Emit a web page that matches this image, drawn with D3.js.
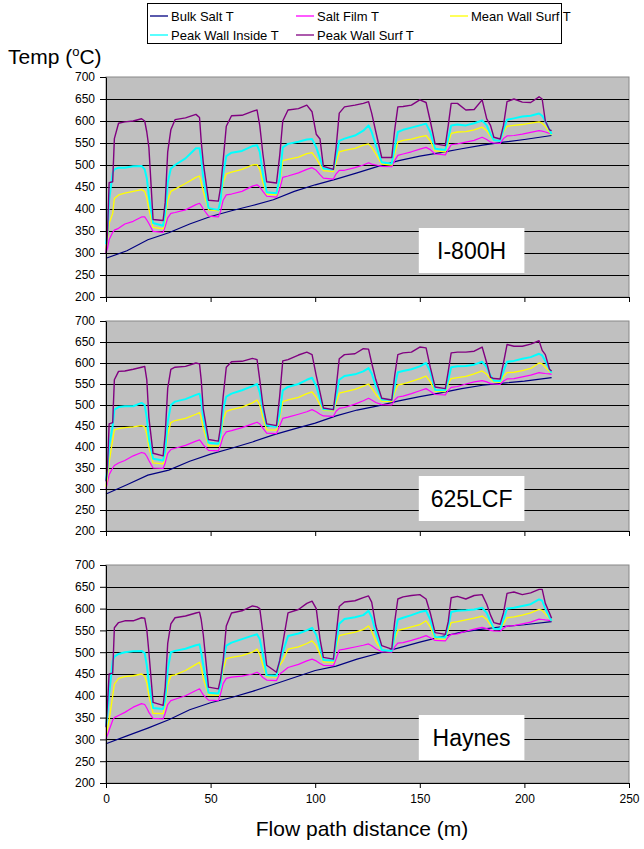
<!DOCTYPE html>
<html>
<head>
<meta charset="utf-8">
<script src="https://cdn.jsdelivr.net/npm/d3@7"></script>
<style>
  body { margin: 0; background: #fff; }
  text { font-family: "Liberation Sans", Arial, sans-serif; }
</style>
</head>
<body>
<svg id="chart" width="644" height="849"></svg>
<script>
// distance grid (m) shared by the four stepped series
const dist = [
  0, 0.7, 1.5, 3.2, 4, 6, 9, 13, 17, 18.5, 19.5, 20.5, 22.5, 27.3, 28.3, 29.5, 31,
  33, 38, 43, 44.7, 45.5, 46.5, 49, 53.7, 54.8, 56, 57.5,
  60, 65, 70, 72.2, 73.5, 75, 76.8, 81.5, 83, 84.5,
  87, 92, 96, 98.5, 100.5, 102.3, 103.9, 108.7, 110, 111.5,
  114, 119, 123, 125.5, 127, 129, 131.8, 136.6, 138, 139.5,
  142, 146, 150, 153, 155, 157.3, 162.2, 163.6, 165,
  168, 172, 176, 179.8, 182, 183.8, 185.4, 188.4, 190, 191.7,
  195, 199, 203, 207, 208.5, 210, 212, 213
];
const bulkDist = [0, 10, 20, 30, 40, 50, 60, 70, 80, 90, 100, 110, 120, 130, 140, 150, 160, 170, 180, 190, 200, 213];

// I-800H
const bulk1 = [288, 305, 330, 346, 366, 383, 396, 408, 421, 440, 455, 468, 482, 497, 510, 520, 528, 537, 545, 552, 558, 567];
const film1 = [
  300, 310, 330, 347, 352, 356, 366, 372, 382, 382, 375, 367, 349, 347, 360, 380, 390,
  392, 398, 410, 413, 408, 400, 384, 382, 395, 420, 432,
  434, 440, 452, 455, 450, 440, 429, 427, 445, 472,
  475, 482, 490, 494, 488, 478, 470, 468, 480, 488,
  488, 494, 500, 505, 502, 500, 497, 496, 510, 522,
  525, 530, 536, 540, 535, 525, 523, 535, 546,
  548, 552, 556, 563, 558, 552, 550, 549, 560, 566,
  567, 570, 574, 578, 577, 575, 572, 571
];
const mean1 = [
  310, 330, 367, 390, 424, 432, 436, 440, 444, 440, 425, 400, 358, 355, 375, 420, 440,
  445, 458, 472, 475, 460, 440, 398, 396, 415, 460, 480,
  484, 490, 500, 501, 490, 460, 434, 432, 460, 510,
  513, 518, 526, 528, 515, 500, 487, 485, 505, 530,
  533, 538, 545, 548, 540, 525, 502, 500, 525, 552,
  556, 559, 564, 567, 555, 532, 530, 550, 572,
  575, 576, 580, 586, 578, 565, 557, 555, 575, 588,
  590, 592, 595, 598, 595, 588, 575, 568
];
const inside1 = [
  320, 345, 420, 482, 490, 494, 494, 497, 498, 490, 470, 430, 368, 362, 390, 460, 492,
  500, 515, 538, 538, 515, 470, 402, 398, 420, 480, 520,
  528, 532, 543, 545, 530, 480, 438, 436, 470, 540,
  548, 553, 558, 559, 540, 515, 492, 490, 520, 555,
  560, 567, 578, 590, 575, 545, 506, 503, 540, 575,
  580, 585, 590, 594, 575, 537, 534, 560, 590,
  592, 590, 595, 601, 590, 570, 557, 555, 580, 603,
  606, 610, 612, 617, 612, 600, 580, 570
];
const surf1 = [
  300, 345, 460, 462, 560, 595, 598, 600, 605, 600, 575, 540, 376, 374, 415, 530, 580,
  603, 607, 615, 608, 555, 505, 420, 418, 450, 510, 588,
  612, 613, 622, 625, 590, 525, 462, 459, 520, 600,
  625, 628, 636, 621, 570, 559, 497, 490, 540, 618,
  632, 636, 640, 644, 618, 575, 517, 517, 580, 632,
  633, 636, 648, 642, 600, 548, 544, 590, 640,
  640, 625, 626, 648, 605, 590, 563, 559, 590, 644,
  650, 643, 642, 655, 650, 600, 580, 578
];

// 625LCF
const bulk2 = [288, 310, 333, 345, 366, 383, 397, 412, 429, 443, 457, 474, 488, 498, 510, 520, 529, 539, 547, 552, 557, 565];
const film2 = [
  300, 315, 334, 350, 356, 362, 368, 379, 387, 385, 378, 368, 350, 349, 362, 385, 394,
  397, 404, 414, 417, 412, 405, 392, 391, 405, 425, 436,
  439, 446, 455, 459, 455, 445, 433, 432, 450, 468,
  471, 478, 484, 489, 484, 478, 474, 473, 485, 492,
  494, 502, 510, 516, 512, 506, 501, 500, 512, 519,
  521, 527, 534, 539, 533, 525, 524, 535, 542,
  544, 550, 555, 558, 555, 551, 550, 549, 557, 562,
  563, 567, 571, 577, 576, 575, 574, 573
];
const mean2 = [
  305, 330, 364, 417, 440, 444, 446, 448, 451, 448, 430, 400, 362, 360, 380, 430, 458,
  463, 468, 478, 482, 470, 445, 403, 402, 420, 465, 485,
  489, 495, 505, 512, 500, 470, 441, 440, 470, 508,
  512, 518, 527, 531, 518, 500, 487, 486, 505, 528,
  531, 537, 545, 550, 540, 525, 509, 508, 530, 548,
  550, 556, 563, 569, 555, 533, 532, 550, 563,
  565, 568, 574, 581, 573, 562, 555, 554, 568, 577,
  578, 582, 587, 600, 598, 590, 580, 577
];
const inside2 = [
  320, 349, 402, 451, 489, 495, 497, 497, 505, 500, 470, 420, 372, 368, 390, 460, 500,
  508, 514, 524, 527, 510, 470, 410, 408, 430, 490, 520,
  527, 535, 545, 550, 530, 490, 451, 448, 480, 535,
  543, 550, 560, 565, 545, 515, 490, 489, 520, 560,
  569, 573, 580, 588, 575, 545, 513, 512, 545, 578,
  581, 585, 592, 600, 580, 536, 535, 560, 590,
  592, 593, 596, 603, 590, 570, 558, 557, 580, 603,
  605, 610, 614, 622, 618, 605, 585, 577
];
const surf2 = [
  318, 350, 455, 458, 560, 580, 581, 585, 590, 592, 560, 470, 385, 379, 430, 540, 585,
  590, 592, 600, 598, 560, 490, 418, 414, 450, 520, 590,
  603, 604, 611, 608, 560, 500, 455, 451, 520, 605,
  608, 619, 626, 620, 570, 530, 493, 489, 540, 610,
  620, 622, 634, 633, 600, 560, 516, 512, 570, 620,
  624, 626, 638, 636, 590, 543, 539, 580, 624,
  626, 626, 628, 638, 600, 566, 563, 562, 600, 644,
  640, 640, 645, 653, 630, 620, 585, 581
];

// Haynes
const bulk3 = [290, 308, 326, 345, 368, 384, 396, 410, 426, 442, 458, 468, 484, 497, 510, 523, 535, 546, 553, 559, 563, 570];
const film3 = [
  300, 310, 321, 344, 350, 355, 362, 374, 382, 380, 372, 362, 348, 347, 360, 380, 389,
  392, 400, 412, 416, 410, 402, 390, 389, 405, 428, 440,
  443, 445, 450, 454, 450, 442, 436, 435, 450, 455,
  465, 472, 480, 484, 480, 474, 470, 469, 485, 505,
  507, 512, 516, 519, 515, 508, 501, 500, 512, 521,
  522, 527, 533, 538, 533, 527, 526, 535, 541,
  542, 548, 553, 557, 554, 550, 549, 548, 555, 560,
  561, 565, 569, 576, 575, 574, 573, 572
];
const mean3 = [
  310, 325, 344, 400, 427, 440, 444, 446, 450, 445, 430, 400, 360, 359, 380, 425, 446,
  448, 458, 472, 477, 465, 440, 402, 401, 420, 460, 485,
  488, 492, 500, 507, 495, 470, 444, 443, 470, 480,
  507, 512, 520, 526, 515, 495, 478, 477, 510, 538,
  541, 546, 552, 560, 548, 525, 504, 503, 530, 550,
  553, 558, 563, 572, 558, 531, 530, 550, 568,
  570, 574, 578, 583, 575, 562, 554, 553, 565, 579,
  581, 585, 590, 598, 596, 588, 578, 572
];
const inside3 = [
  330, 360, 404, 480, 490, 496, 500, 502, 503, 498, 470, 430, 372, 370, 390, 460, 500,
  503, 508, 516, 518, 500, 470, 407, 405, 425, 480, 515,
  522, 530, 538, 541, 530, 495, 447, 446, 480, 500,
  537, 543, 550, 556, 540, 510, 482, 481, 520, 565,
  576, 580, 585, 595, 580, 545, 505, 503, 540, 575,
  579, 585, 592, 595, 575, 535, 534, 560, 592,
  595, 596, 598, 602, 590, 570, 554, 553, 575, 600,
  602, 606, 610, 621, 618, 600, 580, 572
];
const surf3 = [
  328, 380, 450, 452, 556, 568, 572, 572, 579, 578, 552, 500, 385, 378, 420, 520, 565,
  579, 583, 590, 592, 575, 540, 420, 416, 440, 480, 560,
  590, 595, 606, 604, 600, 545, 470, 454, 480, 520,
  590, 598, 612, 617, 600, 530, 488, 484, 540, 605,
  615, 618, 625, 629, 615, 560, 515, 507, 570, 622,
  627, 630, 632, 622, 590, 545, 541, 570, 625,
  628, 622, 630, 632, 610, 585, 568, 564, 590, 635,
  638, 632, 636, 644, 644, 612, 590, 578
];

const materials = ['I-800H', '625LCF', 'Haynes'];
const yTicks = [200, 250, 300, 350, 400, 450, 500, 550, 600, 650, 700];
const xTicks = [0, 50, 100, 150, 200, 250];

const series = [
  { label: 'Bulk Salt T',         color: '#000080', width: 1.2 },
  { label: 'Salt Film T',         color: '#ff00ff', width: 1.2 },
  { label: 'Mean Wall Surf T',    color: '#ffff00', width: 1.3 },
  { label: 'Peak Wall Inside T',  color: '#00ffff', width: 2 },
  { label: 'Peak Wall Surf T',    color: '#800080', width: 1.4 }
];

const panels = [
  { name: materials[0], bulk: bulk1, values: [film1, mean1, inside1, surf1] },
  { name: materials[1], bulk: bulk2, values: [film2, mean2, inside2, surf2] },
  { name: materials[2], bulk: bulk3, values: [film3, mean3, inside3, surf3] }
];

const svg = d3.select('#chart');
const x = d3.scaleLinear().domain([0, 250]).range([106, 629]);
const frames = [
  { top: 77, bottom: 297, box: [228, 273] },
  { top: 321, bottom: 531, box: [476, 521] },
  { top: 565, bottom: 783, box: [715, 760] }
];

panels.forEach((p, i) => {
  const fr = frames[i];
  const y = d3.scaleLinear().domain([200, 700]).range([fr.bottom, fr.top]);
  const g = svg.append('g');

  g.append('rect')
    .attr('x', x(0)).attr('y', fr.top)
    .attr('width', x(250) - x(0)).attr('height', fr.bottom - fr.top)
    .attr('fill', '#c0c0c0')
    .attr('stroke', '#888').attr('stroke-width', 1);

  g.append('g').selectAll('line')
    .data(yTicks.slice(1, -1))
    .join('line')
      .attr('x1', x(0)).attr('x2', x(250))
      .attr('y1', d => Math.round(y(d)) + 0.5).attr('y2', d => Math.round(y(d)) + 0.5)
      .attr('stroke', '#000').attr('stroke-width', 1.2);

  // material tag
  const bx = x(150) - 1, bw = x(200) - x(150) + 1;
  g.append('rect')
    .attr('x', bx).attr('y', fr.box[0])
    .attr('width', bw).attr('height', fr.box[1] - fr.box[0])
    .attr('fill', '#fff');
  g.append('text')
    .attr('x', bx + bw / 2).attr('y', (fr.box[0] + fr.box[1]) / 2 + 8)
    .attr('text-anchor', 'middle')
    .attr('font-size', 23)
    .text(p.name);

  const bulkLine = d3.line().x((d, j) => x(bulkDist[j])).y(d => y(d));
  g.append('path')
    .attr('d', bulkLine(p.bulk))
    .attr('fill', 'none')
    .attr('stroke', series[0].color)
    .attr('stroke-width', series[0].width);

  const line = d3.line().x((d, j) => x(dist[j])).y(d => y(d));
  p.values.forEach((vals, k) => {
    const s = series[k + 1];
    g.append('path')
      .attr('d', line(vals))
      .attr('fill', 'none')
      .attr('stroke', s.color)
      .attr('stroke-width', s.width)
      .attr('stroke-linejoin', 'round');
  });

  const yAxis = g.append('g')
    .attr('transform', `translate(${x(0)},0)`)
    .call(d3.axisLeft(y).tickValues(yTicks).tickSize(6).tickSizeOuter(0).tickPadding(5));
  yAxis.select('.domain').attr('stroke', '#000');
  yAxis.selectAll('text').attr('font-size', 12).attr('fill', '#000')
    .attr('font-family', '"Liberation Sans", Arial, sans-serif');

  const xAxis = g.append('g')
    .attr('transform', `translate(0,${fr.bottom})`)
    .call(d3.axisBottom(x).tickValues(xTicks).tickSize(5).tickSizeOuter(0).tickPadding(6)
      .tickFormat(i === 2 ? d3.format('d') : () => ''));
  xAxis.select('.domain').attr('stroke', '#000');
  xAxis.selectAll('text').attr('font-size', 12).attr('fill', '#000')
    .attr('font-family', '"Liberation Sans", Arial, sans-serif');
});

// y title
const yt = svg.append('text').attr('x', 8).attr('y', 64).attr('font-size', 21);
yt.append('tspan').text('Temp (');
yt.append('tspan').attr('font-size', 13).attr('dy', -8).text('o');
yt.append('tspan').attr('dy', 8).text('C)');

svg.append('text')
  .attr('x', 362).attr('y', 836)
  .attr('text-anchor', 'middle')
  .attr('font-size', 21)
  .text('Flow path distance (m)');

// legend
const legend = svg.append('g');
legend.append('rect')
  .attr('x', 147.5).attr('y', 3.5).attr('width', 414).attr('height', 40)
  .attr('fill', '#fff').attr('stroke', '#000').attr('stroke-width', 1);
const legendPos = [[150, 16], [296, 16], [450, 16], [150, 35], [296, 35]];
series.forEach((s, k) => {
  const [lx, ly] = legendPos[k];
  legend.append('line')
    .attr('x1', lx).attr('x2', lx + 18).attr('y1', ly).attr('y2', ly)
    .attr('stroke', s.color).attr('stroke-width', 1.3);
  legend.append('text')
    .attr('x', lx + 21).attr('y', ly + 4.5)
    .attr('font-size', 13)
    .text(s.label);
});
</script>
</body>
</html>
